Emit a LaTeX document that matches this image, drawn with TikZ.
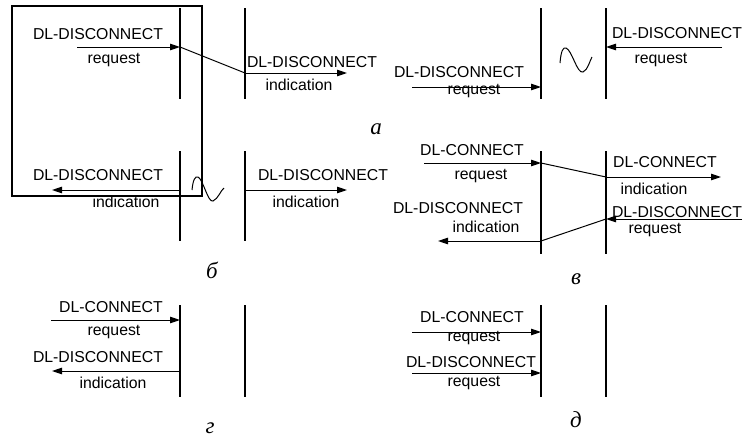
\documentclass[tikz,border=0pt]{standalone}
\usepackage{fontspec}
\setmainfont{Liberation Sans}
\newfontfamily\capfont{Liberation Serif}
\usetikzlibrary{arrows.meta}
\begin{document}
\begin{tikzpicture}[x=1pt,y=-1pt,
  lbl/.style={inner sep=0pt, font=\fontsize{15.8}{17}\selectfont},
  panelcap/.style={inner sep=0pt, font=\capfont\itshape\fontsize{23}{24}\selectfont},
  prim/.style={line width=1pt, -{Triangle[length=10pt,width=6.5pt]}},
  link/.style={line width=1pt},
  layer/.style={line width=1.2pt},
  frame/.style={line width=2.3pt},
  wave/.style={line width=1pt}]
\useasboundingbox (0,0) rectangle (744,437);

% ---------- panel a ----------
\coordinate (a1t) at (180,8);  \coordinate (a1b) at (180,99);
\coordinate (a2t) at (245,8);  \coordinate (a2b) at (245,99);
\coordinate (a3t) at (541,8);  \coordinate (a3b) at (541,99);
\coordinate (a4t) at (606,8);  \coordinate (a4b) at (606,99);
\draw[layer] (a1t) -- (a1b);
\draw[layer] (a2t) -- (a2b);
\draw[layer] (a3t) -- (a3b);
\draw[layer] (a4t) -- (a4b);

\coordinate (aS1) at (77,47);   \coordinate (aE1) at (180,47);
\coordinate (aS2) at (245,73);  \coordinate (aE2) at (347,73);
\draw[prim] (aS1) -- (aE1);
\draw[link] (aE1) -- (aS2);
\draw[prim] (aS2) -- (aE2);
\node[lbl] (aL1) at (98,34) {DL-DISCONNECT};
\node[lbl] (aL2) at (114,60) {request};
\node[lbl] (aL3) at (312,62) {DL-DISCONNECT};
\node[lbl] (aL4) at (299,85) {indication};

\coordinate (aS3) at (412,87);  \coordinate (aE3) at (541,87);
\draw[prim] (aS3) -- (aE3);
\node[lbl] (aL5) at (459,72) {DL-DISCONNECT};
\node[lbl] (aL6) at (474,91) {request};

\coordinate (aS4) at (722,47);  \coordinate (aE4) at (606,47);
\draw[prim] (aS4) -- (aE4);
\node[lbl] (aL7) at (677,33) {DL-DISCONNECT};
\node[lbl] (aL8) at (661,60) {request};

% line break symbol
\draw[wave] (560,63) .. controls (561,51) and (563,47) .. (566,48)
            .. controls (572,50) and (577,74) .. (583,72)
            .. controls (588,70) and (590,60) .. (592,57);

\node[panelcap] (capA) at (376,129) {а};

% ---------- panel b ----------
\coordinate (b1t) at (180,151); \coordinate (b1b) at (180,241);
\coordinate (b2t) at (245,151); \coordinate (b2b) at (245,241);
\draw[layer] (b1t) -- (b1b);
\draw[layer] (b2t) -- (b2b);
\coordinate (bS1) at (180,190); \coordinate (bE1) at (52,190);
\coordinate (bS2) at (245,190); \coordinate (bE2) at (347,190);
\draw[prim] (bS1) -- (bE1);
\draw[prim] (bS2) -- (bE2);
\node[lbl] (bL1) at (98,175) {DL-DISCONNECT};
\node[lbl] (bL2) at (126,202) {indication};
\node[lbl] (bL3) at (323,175) {DL-DISCONNECT};
\node[lbl] (bL4) at (306,202) {indication};
\draw[wave] (192,190) .. controls (193,180) and (195,176) .. (198,177)
            .. controls (203,179) and (208,203) .. (213,201)
            .. controls (218,199) and (221,190) .. (224,188);
\node[panelcap] (capB) at (212,270) {б};

% highlight frame
\draw[frame] (12,6) rectangle (202,196);

% ---------- panel v ----------
\coordinate (v1t) at (541,151); \coordinate (v1b) at (541,254);
\coordinate (v2t) at (606,151); \coordinate (v2b) at (606,254);
\draw[layer] (v1t) -- (v1b);
\draw[layer] (v2t) -- (v2b);
\coordinate (vS1) at (424,163); \coordinate (vE1) at (541,163);
\coordinate (vS2) at (606,177); \coordinate (vE2) at (721,177);
\draw[prim] (vS1) -- (vE1);
\draw[link] (vE1) -- (vS2);
\draw[prim] (vS2) -- (vE2);
\node[lbl] (vL1) at (472,150) {DL-CONNECT};
\node[lbl] (vL2) at (481,176) {request};
\node[lbl] (vL3) at (665,162) {DL-CONNECT};
\node[lbl] (vL4) at (654,189) {indication};

\coordinate (vS3) at (742,219); \coordinate (vE3) at (606,219);
\coordinate (vS4) at (541,241); \coordinate (vE4) at (438,241);
\draw[prim] (vS3) -- (vE3);
\draw[link] (vE3) -- (vS4);
\draw[prim] (vS4) -- (vE4);
\node[lbl] (vL5) at (677,212) {DL-DISCONNECT};
\node[lbl] (vL6) at (655,230) {request};
\node[lbl] (vL7) at (458,208) {DL-DISCONNECT};
\node[lbl] (vL8) at (486,227) {indication};
\node[panelcap] (capV) at (576,279) {в};

% ---------- panel g ----------
\coordinate (g1t) at (180,305); \coordinate (g1b) at (180,397);
\coordinate (g2t) at (245,305); \coordinate (g2b) at (245,397);
\draw[layer] (g1t) -- (g1b);
\draw[layer] (g2t) -- (g2b);
\coordinate (gS1) at (51,320);  \coordinate (gE1) at (180,320);
\coordinate (gS2) at (180,371); \coordinate (gE2) at (52,371);
\draw[prim] (gS1) -- (gE1);
\draw[prim] (gS2) -- (gE2);
\node[lbl] (gL1) at (111,307) {DL-CONNECT};
\node[lbl] (gL2) at (114,332) {request};
\node[lbl] (gL3) at (98,357) {DL-DISCONNECT};
\node[lbl] (gL4) at (113,383) {indication};
\node[panelcap] (capG) at (210,428) {г};

% ---------- panel d ----------
\coordinate (d1t) at (541,305); \coordinate (d1b) at (541,397);
\coordinate (d2t) at (606,305); \coordinate (d2b) at (606,397);
\draw[layer] (d1t) -- (d1b);
\draw[layer] (d2t) -- (d2b);
\coordinate (dS1) at (412,332); \coordinate (dE1) at (541,332);
\coordinate (dS2) at (412,373); \coordinate (dE2) at (541,373);
\draw[prim] (dS1) -- (dE1);
\draw[prim] (dS2) -- (dE2);
\node[lbl] (dL1) at (472,317) {DL-CONNECT};
\node[lbl] (dL2) at (474,338) {request};
\node[lbl] (dL3) at (471,362) {DL-DISCONNECT};
\node[lbl] (dL4) at (474,383) {request};
\node[panelcap] (capD) at (576,420) {д};
\end{tikzpicture}
\end{document}
